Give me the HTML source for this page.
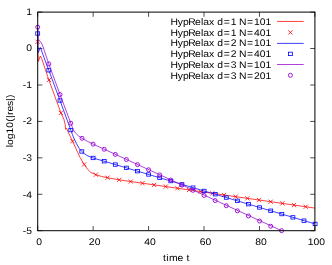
<!DOCTYPE html>
<html><head><meta charset="utf-8"><title>plot</title>
<style>
html,body{margin:0;padding:0;background:#fff;}
svg{display:block;}
text{font-family:"Liberation Sans",sans-serif;font-size:9.6px;text-rendering:geometricPrecision;fill:#000;}
</style></head><body>
<svg width="332" height="265" viewBox="0 0 332 265">
<defs><filter id="soft" x="0" y="0" width="332" height="265" filterUnits="userSpaceOnUse" color-interpolation-filters="sRGB"><feGaussianBlur stdDeviation="0.3"/></filter></defs>
<rect x="0" y="0" width="332" height="265" fill="#fff"/>
<g filter="url(#soft)">

<g fill="none" stroke="#000" stroke-width="0.7">
<path d="M37.70 230.70 V226.00 M37.70 12.10 V16.80"/>
<path d="M93.14 230.70 V226.00 M93.14 12.10 V16.80"/>
<path d="M148.58 230.70 V226.00 M148.58 12.10 V16.80"/>
<path d="M204.02 230.70 V226.00 M204.02 12.10 V16.80"/>
<path d="M259.46 230.70 V226.00 M259.46 12.10 V16.80"/>
<path d="M314.90 230.70 V226.00 M314.90 12.10 V16.80"/>
<path d="M37.70 12.10 H42.40 M314.90 12.10 H310.20"/>
<path d="M37.70 48.53 H42.40 M314.90 48.53 H310.20"/>
<path d="M37.70 84.97 H42.40 M314.90 84.97 H310.20"/>
<path d="M37.70 121.40 H42.40 M314.90 121.40 H310.20"/>
<path d="M37.70 157.83 H42.40 M314.90 157.83 H310.20"/>
<path d="M37.70 194.27 H42.40 M314.90 194.27 H310.20"/>
<path d="M37.70 230.70 H42.40 M314.90 230.70 H310.20"/>
</g>
<g fill="none" stroke-linejoin="round" stroke-linecap="butt">
<path d="M37.60 42.10 L38.20 61.50 L39.10 59.60 L40.30 56.00 L41.60 58.40 L48.90 80.00 L60.90 112.90 L63.90 119.30 L65.10 124.20 L65.60 129.30 L66.60 128.20 L68.10 132.00 L72.50 141.20 L80.00 157.40 L84.20 164.40 L87.20 168.90 L90.90 172.50 L95.90 174.70 L101.70 176.50 L107.50 177.70 L118.90 179.80 L314.90 208.08" stroke="#ff0000" stroke-width="0.75"/>
<g stroke="#ff0000" stroke-width="0.8"><path d="M35.50 39.70 L39.70 43.90 M35.50 43.90 L39.70 39.70"/><path d="M46.80 77.90 L51.00 82.10 M46.80 82.10 L51.00 77.90"/><path d="M58.80 110.80 L63.00 115.00 M58.80 115.00 L63.00 110.80"/><path d="M70.40 139.10 L74.60 143.30 M70.40 143.30 L74.60 139.10"/><path d="M82.10 162.30 L86.30 166.50 M82.10 166.50 L86.30 162.30"/><path d="M93.80 172.60 L98.00 176.80 M93.80 176.80 L98.00 172.60"/><path d="M105.40 175.60 L109.60 179.80 M105.40 179.80 L109.60 175.60"/><path d="M117.02 177.73 L121.22 181.93 M117.02 181.93 L121.22 177.73"/><path d="M128.68 179.41 L132.88 183.61 M128.68 183.61 L132.88 179.41"/><path d="M140.34 181.10 L144.54 185.30 M140.34 185.30 L144.54 181.10"/><path d="M152.00 182.78 L156.20 186.98 M152.00 186.98 L156.20 182.78"/><path d="M163.66 184.46 L167.86 188.66 M163.66 188.66 L167.86 184.46"/><path d="M175.32 186.14 L179.52 190.34 M175.32 190.34 L179.52 186.14"/><path d="M186.98 187.83 L191.18 192.03 M186.98 192.03 L191.18 187.83"/><path d="M198.64 189.51 L202.84 193.71 M198.64 193.71 L202.84 189.51"/><path d="M210.30 191.19 L214.50 195.39 M210.30 195.39 L214.50 191.19"/><path d="M221.96 192.87 L226.16 197.07 M221.96 197.07 L226.16 192.87"/><path d="M233.62 194.56 L237.82 198.76 M233.62 198.76 L237.82 194.56"/><path d="M245.28 196.24 L249.48 200.44 M245.28 200.44 L249.48 196.24"/><path d="M256.94 197.92 L261.14 202.12 M256.94 202.12 L261.14 197.92"/><path d="M268.60 199.60 L272.80 203.80 M268.60 203.80 L272.80 199.60"/><path d="M280.26 201.29 L284.46 205.49 M280.26 205.49 L284.46 201.29"/><path d="M291.92 202.97 L296.12 207.17 M291.92 207.17 L296.12 202.97"/><path d="M303.58 204.65 L307.78 208.85 M303.58 208.85 L307.78 204.65"/></g>
<path d="M37.70 33.50 L38.20 52.50 L39.10 50.60 L40.30 47.40 L41.30 50.00 L46.10 63.30 L48.80 70.30 L60.00 100.50 L70.80 130.10 L72.50 134.70 L74.20 139.00 L76.60 143.80 L79.10 148.30 L81.80 151.50 L84.20 153.60 L86.90 155.40 L90.00 156.80 L93.25 158.00 L314.90 223.90" stroke="#0000ff" stroke-width="0.75"/>
<g stroke="#0000ff" stroke-width="0.8" stroke-linejoin="miter"><rect x="35.75" y="31.80" width="3.90" height="3.40"/><rect x="46.85" y="68.60" width="3.90" height="3.40"/><rect x="58.05" y="98.80" width="3.90" height="3.40"/><rect x="68.85" y="128.40" width="3.90" height="3.40"/><rect x="79.85" y="149.80" width="3.90" height="3.40"/><rect x="91.15" y="156.26" width="3.90" height="3.40"/><rect x="102.25" y="159.56" width="3.90" height="3.40"/><rect x="113.35" y="162.86" width="3.90" height="3.40"/><rect x="124.45" y="166.16" width="3.90" height="3.40"/><rect x="135.55" y="169.46" width="3.90" height="3.40"/><rect x="146.65" y="172.76" width="3.90" height="3.40"/><rect x="157.75" y="176.06" width="3.90" height="3.40"/><rect x="168.85" y="179.36" width="3.90" height="3.40"/><rect x="179.95" y="182.66" width="3.90" height="3.40"/><rect x="191.05" y="185.96" width="3.90" height="3.40"/><rect x="202.15" y="189.26" width="3.90" height="3.40"/><rect x="213.25" y="192.56" width="3.90" height="3.40"/><rect x="224.35" y="195.86" width="3.90" height="3.40"/><rect x="235.45" y="199.16" width="3.90" height="3.40"/><rect x="246.55" y="202.46" width="3.90" height="3.40"/><rect x="257.65" y="205.76" width="3.90" height="3.40"/><rect x="268.75" y="209.06" width="3.90" height="3.40"/><rect x="279.85" y="212.36" width="3.90" height="3.40"/><rect x="290.95" y="215.66" width="3.90" height="3.40"/><rect x="302.05" y="218.96" width="3.90" height="3.40"/><rect x="313.15" y="222.26" width="3.90" height="3.40"/></g>
<path d="M37.70 27.60 L38.20 39.50 L39.40 41.00 L41.00 42.30 L42.40 45.00 L48.80 63.90 L60.00 94.50 L70.80 123.20 L73.30 130.00 L75.40 132.90 L78.50 135.90 L82.05 138.30 L87.50 141.40 L93.25 144.20 L281.60 230.70" stroke="#9400d3" stroke-width="0.75"/>
<g stroke="#9400d3" stroke-width="0.9"><circle cx="37.70" cy="27.20" r="2.00"/><circle cx="48.80" cy="63.90" r="2.00"/><circle cx="60.00" cy="94.50" r="2.00"/><circle cx="70.80" cy="123.20" r="2.00"/><circle cx="82.05" cy="138.30" r="2.00"/><circle cx="93.10" cy="144.13" r="2.00"/><circle cx="104.20" cy="149.26" r="2.00"/><circle cx="115.30" cy="154.39" r="2.00"/><circle cx="126.40" cy="159.52" r="2.00"/><circle cx="137.50" cy="164.65" r="2.00"/><circle cx="148.60" cy="169.78" r="2.00"/><circle cx="159.70" cy="174.91" r="2.00"/><circle cx="170.80" cy="180.04" r="2.00"/><circle cx="181.90" cy="185.17" r="2.00"/><circle cx="193.00" cy="190.30" r="2.00"/><circle cx="204.10" cy="195.43" r="2.00"/><circle cx="215.20" cy="200.57" r="2.00"/><circle cx="226.30" cy="205.70" r="2.00"/><circle cx="237.40" cy="210.83" r="2.00"/><circle cx="248.50" cy="215.96" r="2.00"/><circle cx="259.60" cy="221.09" r="2.00"/><circle cx="270.70" cy="226.22" r="2.00"/><circle cx="281.60" cy="230.70" r="2.00"/></g>
</g>
<rect x="37.70" y="12.10" width="277.20" height="218.60" fill="none" stroke="#000" stroke-width="1"/>
<text transform="translate(26.19,15.10) scale(1.08,1)" x="0.02" y="0">1</text>
<text transform="translate(26.19,51.13) scale(1.08,1)" x="0.02" y="0">0</text>
<text transform="translate(22.90,88.07) scale(1.08,1)" x="-0.07 3.07" y="0">-1</text>
<text transform="translate(22.90,124.20) scale(1.08,1)" x="-0.07 3.07" y="0">-2</text>
<text transform="translate(22.90,160.93) scale(1.08,1)" x="-0.07 3.07" y="0">-3</text>
<text transform="translate(22.90,198.17) scale(1.08,1)" x="-0.07 3.07" y="0">-4</text>
<text transform="translate(22.90,234.30) scale(1.08,1)" x="-0.07 3.07" y="0">-5</text>
<text transform="translate(36.30,244.90) scale(1.08,1)" x="0.02" y="0">0</text>
<text transform="translate(88.83,244.90) scale(1.08,1)" x="0.02 5.40" y="0">20</text>
<text transform="translate(144.27,244.90) scale(1.08,1)" x="0.02 5.40" y="0">40</text>
<text transform="translate(199.71,244.90) scale(1.08,1)" x="0.02 5.40" y="0">60</text>
<text transform="translate(255.15,244.90) scale(1.08,1)" x="0.02 5.40" y="0">80</text>
<text transform="translate(307.69,244.90) scale(1.08,1)" x="0.02 5.40 10.78" y="0">100</text>
<text transform="translate(162.65,260.60) scale(1.08,1)" x="0.32 3.42 5.78 13.83 19.11 22.11" y="0">time t</text>
<text transform="translate(12.70,120.90) rotate(-90) translate(-26.47,0) scale(1.08,1)" x="0.11 2.27 7.53 12.91 18.29 23.69 27.12 29.93 33.20 38.27 43.05 45.77" y="0">log10(|res|)</text>
<text transform="translate(170.78,24.95) scale(1.08,1)" x="-0.29 6.46 11.37 16.20 22.53 27.91 30.07 35.43 40.34 43.03 49.12 55.49 60.86 63.23 70.60 76.96 82.34 87.72" y="0">HypRelax d=1 N=101</text>
<text transform="translate(170.78,35.72) scale(1.08,1)" x="-0.29 6.46 11.37 16.20 22.53 27.91 30.07 35.43 40.34 43.03 49.12 55.49 60.86 63.23 70.60 76.96 82.34 87.72" y="0">HypRelax d=1 N=401</text>
<text transform="translate(170.78,46.49) scale(1.08,1)" x="-0.29 6.46 11.37 16.20 22.53 27.91 30.07 35.43 40.34 43.03 49.12 55.49 60.86 63.23 70.60 76.96 82.34 87.72" y="0">HypRelax d=2 N=101</text>
<text transform="translate(170.78,57.26) scale(1.08,1)" x="-0.29 6.46 11.37 16.20 22.53 27.91 30.07 35.43 40.34 43.03 49.12 55.49 60.86 63.23 70.60 76.96 82.34 87.72" y="0">HypRelax d=2 N=401</text>
<text transform="translate(170.78,68.03) scale(1.08,1)" x="-0.29 6.46 11.37 16.20 22.53 27.91 30.07 35.43 40.34 43.03 49.12 55.49 60.86 63.23 70.60 76.96 82.34 87.72" y="0">HypRelax d=3 N=101</text>
<text transform="translate(170.78,78.80) scale(1.08,1)" x="-0.29 6.46 11.37 16.20 22.53 27.91 30.07 35.43 40.34 43.03 49.12 55.49 60.86 63.23 70.60 76.96 82.34 87.72" y="0">HypRelax d=3 N=201</text>
<g fill="none">
<path d="M277.0 21.45 H303.7" stroke="#ff0000" stroke-width="0.75"/>
<g stroke="#ff0000" stroke-width="0.8"><path d="M288.30 30.30 L292.50 34.50 M288.30 34.50 L292.50 30.30"/></g>
<path d="M277.0 43.40 H303.7" stroke="#0000ff" stroke-width="0.75"/>
<g stroke="#0000ff" stroke-width="0.8" stroke-linejoin="miter"><rect x="288.45" y="52.20" width="3.90" height="3.40"/></g>
<path d="M277.0 64.50 H303.7" stroke="#9400d3" stroke-width="0.75"/>
<g stroke="#9400d3" stroke-width="0.9"><circle cx="290.40" cy="75.30" r="2.00"/></g>
</g>
</g></svg></body></html>
